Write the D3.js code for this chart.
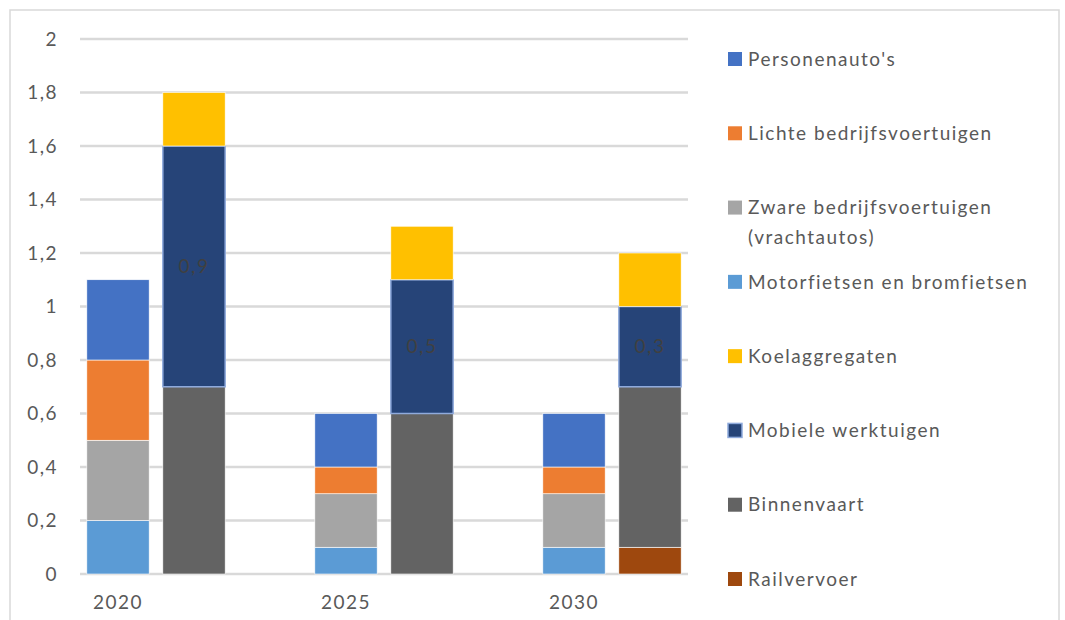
<!DOCTYPE html>
<html>
<head>
<meta charset="utf-8">
<script src="https://cdn.jsdelivr.net/npm/d3@7"></script>
<style>
  body { margin: 0; background: #fff; }
  svg text { font-family: Lato, "Open Sans", sans-serif; letter-spacing: 1.5px; }
</style>
</head>
<body>
<svg id="chart" width="1065" height="620"></svg>
<script>
// data
const years = ["2020", "2025", "2030"];
const yTicks = [0, 0.2, 0.4, 0.6, 0.8, 1, 1.2, 1.4, 1.6, 1.8, 2];

// left bar of each year (road traffic), bottom to top
const roadSeries = ["Motorfietsen en bromfietsen", "Zware bedrijfsvoertuigen (vrachtautos)", "Lichte bedrijfsvoertuigen", "Personenauto's"];
const motorfietsen = [0.2, 0.1, 0.1];
const zware = [0.3, 0.2, 0.2];
const lichte = [0.3, 0.1, 0.1];
const personenautos = [0.3, 0.2, 0.2];

// right bar of each year (other), bottom to top
const otherSeries = ["Railvervoer", "Binnenvaart", "Mobiele werktuigen", "Koelaggregaten"];
const railvervoer = [0, 0, 0.1];
const binnenvaart = [0.7, 0.6, 0.6];
const mobiele = [0.9, 0.5, 0.3];
const koel = [0.2, 0.2, 0.2];

// legend order (top to bottom)
const legendOrder = ["Personenauto's", "Lichte bedrijfsvoertuigen", "Zware bedrijfsvoertuigen (vrachtautos)", "Motorfietsen en bromfietsen", "Koelaggregaten", "Mobiele werktuigen", "Binnenvaart", "Railvervoer"];

const colors = {
  "Personenauto's": "#4472C4",
  "Lichte bedrijfsvoertuigen": "#ED7D31",
  "Zware bedrijfsvoertuigen (vrachtautos)": "#A5A5A5",
  "Motorfietsen en bromfietsen": "#5B9BD5",
  "Koelaggregaten": "#FFC000",
  "Mobiele werktuigen": "#264478",
  "Binnenvaart": "#636363",
  "Railvervoer": "#9E480E"
};

const svg = d3.select("#chart");

// outer frame
svg.append("rect")
  .attr("x", 10).attr("y", 10).attr("width", 1049).attr("height", 620)
  .attr("fill", "none").attr("stroke", "#d9d9d9").attr("stroke-width", 1.5);

// 8 slots: year bar a, year bar b, gap ...
const slots = [];
years.forEach((y, i) => {
  slots.push(y + "-a", y + "-b");
  if (i < years.length - 1) slots.push(y + "-gap");
});

const x = d3.scaleBand()
  .domain(slots)
  .range([80, 688])
  .paddingInner(0.18)
  .paddingOuter(0.09);

const y = d3.scaleLinear().domain([0, 2]).range([574, 39]);

// gridlines
svg.append("g")
  .selectAll("line")
  .data(yTicks)
  .join("line")
  .attr("x1", 80).attr("x2", 688)
  .attr("y1", (d) => y(d)).attr("y2", (d) => y(d))
  .attr("stroke", "#d9d9d9").attr("stroke-width", 2.5);

// y axis labels
const fmt = (d) => String(d).replace(".", ",");
svg.append("g")
  .selectAll("text")
  .data(yTicks)
  .join("text")
  .attr("x", 58)
  .attr("y", (d) => y(d))
  .attr("dy", "0.35em")
  .attr("text-anchor", "end")
  .attr("fill", "#595959")
  .attr("font-size", 19)
  .text(fmt);

// x labels
svg.append("g")
  .selectAll("text")
  .data(years)
  .join("text")
  .attr("x", (d) => x(d + "-a") + x.bandwidth() / 2)
  .attr("y", 602)
  .attr("dy", "0.35em")
  .attr("text-anchor", "middle")
  .attr("fill", "#595959")
  .attr("font-size", 19)
  .text((d) => d);

// build stacked rows
const roadValues = [motorfietsen, zware, lichte, personenautos];
const otherValues = [railvervoer, binnenvaart, mobiele, koel];

function buildRows(seriesNames, valueArrays) {
  return years.map((yr, i) => {
    const row = { year: yr };
    seriesNames.forEach((s, j) => (row[s] = valueArrays[j][i]));
    return row;
  });
}

const roadRows = buildRows(roadSeries, roadValues);
const otherRows = buildRows(otherSeries, otherValues);

function drawStack(rows, keys, suffix) {
  const stacked = d3.stack().keys(keys)(rows);
  const g = svg.append("g");
  stacked.forEach((layer) => {
    const isMob = layer.key === "Mobiele werktuigen";
    g.selectAll(null)
      .data(layer.filter((d) => d[1] - d[0] > 0))
      .join("rect")
      .attr("x", (d) => x(d.data.year + suffix))
      .attr("y", (d) => y(d[1]))
      .attr("width", x.bandwidth())
      .attr("height", (d) => y(d[0]) - y(d[1]))
      .attr("fill", colors[layer.key])
      .attr("stroke", isMob ? "#8FAADC" : "#ffffff")
      .attr("stroke-width", isMob ? 1.5 : 0.6);

    if (isMob) {
      g.selectAll(null)
        .data(layer)
        .join("text")
        .attr("x", (d) => x(d.data.year + suffix) + x.bandwidth() / 2)
        .attr("y", (d) => y((d[0] + d[1]) / 2))
        .attr("dy", "0.35em")
        .attr("text-anchor", "middle")
        .attr("fill", "#404040")
        .attr("font-size", 19)
        .text((d) => fmt(+(d[1] - d[0]).toFixed(1)));
    }
  });
}

drawStack(roadRows, roadSeries, "-a");
drawStack(otherRows, otherSeries, "-b");

// legend
const legendY = d3.scalePoint().domain(legendOrder).range([59, 579]);
const legend = svg.append("g")
  .selectAll("g")
  .data(legendOrder)
  .join("g")
  .attr("transform", (d) => `translate(728, ${legendY(d)})`);

legend.append("rect")
  .attr("x", 0).attr("y", -7)
  .attr("width", 14).attr("height", 14)
  .attr("fill", (d) => colors[d])
  .attr("stroke", (d) => (d === "Mobiele werktuigen" ? "#8FAADC" : "none"))
  .attr("stroke-width", 1.5);

legend.each(function (d) {
  const words = d.indexOf("(") > 0 ? [d.slice(0, d.indexOf("(")).trim(), d.slice(d.indexOf("("))] : [d];
  const t = d3.select(this).append("text")
    .attr("x", 20)
    .attr("y", 0)
    .attr("fill", "#595959")
    .attr("font-size", 19);
  words.forEach((w, i) => {
    t.append("tspan").attr("x", 20).attr("dy", i === 0 ? "0.35em" : "1.55em").text(w);
  });
});
</script>
</body>
</html>
